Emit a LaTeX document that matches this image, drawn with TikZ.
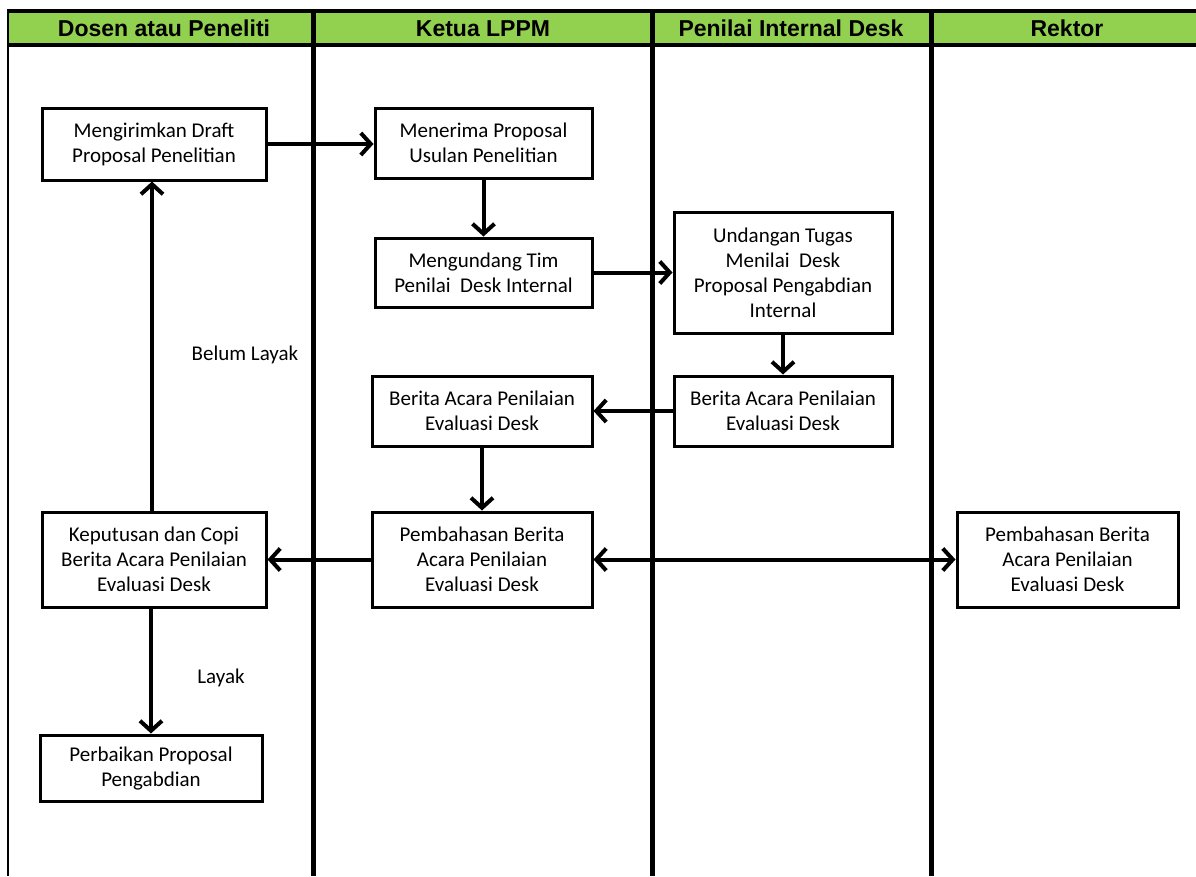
\documentclass[tikz,border=0pt]{standalone}
\usepackage{fontspec}
\setmainfont{Carlito}
\newfontfamily\headfont{Liberation Sans}
\usetikzlibrary{arrows.meta}
\definecolor{headgreen}{HTML}{92D050}
\tikzset{
  box/.style={draw, line width=3pt, align=center, inner sep=0pt,
    font=\fontsize{21}{25}\selectfont},
  flow/.style={line width=4pt, -{Straight Barb[length=10pt,width=22pt]}},
  flowboth/.style={line width=4pt,
    {Straight Barb[length=10pt,width=22pt]}-{Straight Barb[length=10pt,width=22pt]}},
  lane/.style={line width=5pt},
  lanehead/.style={anchor=base, font=\headfont\bfseries\fontsize{23}{26}\selectfont},
  lbl/.style={font=\fontsize{21}{25}\selectfont}
}
\begin{document}
\begin{tikzpicture}[x=1pt,y=-1pt]
  \useasboundingbox (0,0) rectangle (1196,876);
  % swimlanes
  \fill[headgreen] (8,11) rectangle (1196,45);
  \draw[line width=4pt] (8,11) -- (1196,11);
  \draw[line width=4pt] (8,45) -- (1196,45);
  \draw[line width=2pt] (8,9) -- (8,876);
  \draw[lane] (313,9) -- (313,876);
  \draw[lane] (652,9) -- (652,876);
  \draw[lane] (931,9) -- (931,876);
  \node[lanehead] (dosen) at (164,36) {Dosen atau Peneliti};
  \node[lanehead] (ketua) at (483,36) {Ketua LPPM};
  \node[lanehead] (penilai) at (791,36) {Penilai Internal Desk};
  \node[lanehead] (rektor) at (1067,36) {Rektor};
  % steps
  \node[box, minimum width=224pt, minimum height=72pt] (kirim) at (154,144)
    {Mengirimkan Draft\\Proposal Penelitian};
  \node[box, minimum width=217pt, minimum height=70pt] (terima) at (483.5,143)
    {Menerima Proposal\\Usulan Penelitian};
  \node[box, minimum width=217pt, minimum height=69pt] (undang) at (483.5,272.5)
    {Mengundang Tim\\Penilai\ \ Desk Internal};
  \node[box, minimum width=218pt, minimum height=121pt] (tugas) at (783,272.5)
    {Undangan Tugas\\Menilai\ \ Desk\\Proposal Pengabdian\\Internal};
  \node[box, minimum width=218pt, minimum height=70pt] (baPenilai) at (783,411)
    {Berita Acara Penilaian\\Evaluasi Desk};
  \node[box, minimum width=220pt, minimum height=70pt] (baKetua) at (482,411)
    {Berita Acara Penilaian\\Evaluasi Desk};
  \node[box, minimum width=220pt, minimum height=95pt] (bahasKetua) at (482,559.5)
    {Pembahasan Berita\\Acara Penilaian\\Evaluasi Desk};
  \node[box, minimum width=224pt, minimum height=95pt] (putusan) at (154,559.5)
    {Keputusan dan Copi\\Berita Acara Penilaian\\Evaluasi Desk};
  \node[box, minimum width=221pt, minimum height=95pt] (bahasRektor) at (1067.5,559.5)
    {Pembahasan Berita\\Acara Penilaian\\Evaluasi Desk};
  \node[box, minimum width=222pt, minimum height=66pt] (perbaikan) at (151,768)
    {Perbaikan Proposal\\Pengabdian};
  % connectors
  \draw[flow] (kirim.east) -- (kirim.east -| terima.west);
  \draw[flow] (terima.south) -- (undang.north);
  \draw[flow] (undang.east) -- (tugas.west |- undang.east);
  \draw[flow] (tugas.south) -- (baPenilai.north);
  \draw[flow] (baPenilai.west) -- (baKetua.east);
  \draw[flow] (baKetua.south) -- (bahasKetua.north);
  \draw[flow] (bahasKetua.west) -- (putusan.east);
  \draw[flowboth] (bahasKetua.east) -- (bahasRektor.west);
  \draw[flow] ([xshift=-2pt]putusan.north) -- ([xshift=-2pt]kirim.south);
  \draw[flow] (perbaikan.north |- putusan.south) -- (perbaikan.north);
  \node[lbl] (belum) at (245,355) {Belum Layak};
  \node[lbl] (layak) at (221,678) {Layak};
\end{tikzpicture}
\end{document}
